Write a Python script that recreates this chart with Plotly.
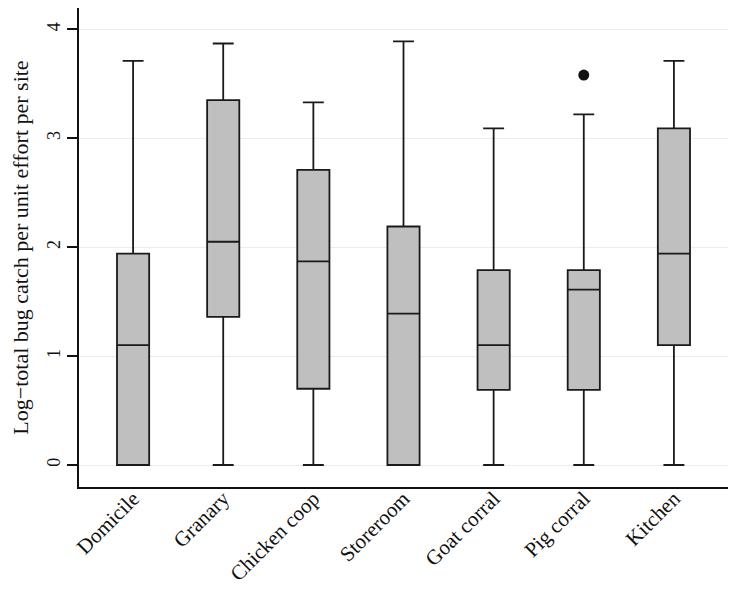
import plotly.graph_objects as go

categories = ["Domicile", "Granary", "Chicken coop", "Storeroom", "Goat corral", "Pig corral", "Kitchen"]
lower_whisker = [0, 0, 0, 0, 0, 0, 0]
q1_vals = [0, 1.36, 0.70, 0, 0.69, 0.69, 1.10]
median_vals = [1.10, 2.05, 1.87, 1.39, 1.10, 1.61, 1.94]
q3_vals = [1.94, 3.35, 2.71, 2.19, 1.79, 1.79, 3.09]
upper_whisker = [3.71, 3.87, 3.33, 3.89, 3.09, 3.22, 3.71]
outlier_cats = ["Pig corral"]
outlier_vals = [3.58]

y_title = "Log\u2212total bug catch per unit effort per site"
y_ticks = [0, 1, 2, 3, 4]

fig = go.Figure()
fig.add_trace(go.Box(
    x=categories,
    q1=q1_vals,
    median=median_vals,
    q3=q3_vals,
    lowerfence=lower_whisker,
    upperfence=upper_whisker,
    fillcolor="#bfbfbf",
    line=dict(color="#1a1a1a", width=1.8),
    whiskerwidth=0.65,
    boxpoints=False,
    showlegend=False,
    hoverinfo="skip",
))
fig.add_trace(go.Scatter(
    x=outlier_cats,
    y=outlier_vals,
    mode="markers",
    marker=dict(color="#111111", size=11),
    showlegend=False,
    hoverinfo="skip",
))

# the page body has an 8px default margin; size the figure to fit inside it
fig.update_layout(
    width=720,
    height=579,
    margin=dict(l=71, r=0, t=0, b=100),
    plot_bgcolor="white",
    paper_bgcolor="white",
    boxgap=0.49,
    font=dict(family="Liberation Serif, Times New Roman, serif", color="#111111", size=18),
    xaxis=dict(
        type="category",
        categoryorder="array",
        categoryarray=categories,
        range=[-0.6, 6.6],
        tickangle=-45,
        showgrid=False,
        showline=True,
        linecolor="#111111",
        linewidth=2,
        ticks="",
        tickfont=dict(size=21),
        ticklabelstandoff=-11,
        zeroline=False,
        automargin=False,
    ),
    yaxis=dict(
        range=[-0.202, 4.196],
        tickvals=y_ticks,
        tickangle=-90,
        showgrid=True,
        gridcolor="#ececec",
        gridwidth=1,
        showline=True,
        linecolor="#111111",
        linewidth=2,
        ticks="outside",
        ticklen=10,
        tickcolor="#111111",
        tickwidth=1.5,
        tickfont=dict(size=18),
        zeroline=False,
        automargin=False,
        title=dict(text=y_title, font=dict(size=22), standoff=20),
    ),
)

fig.write_html("out.html")
